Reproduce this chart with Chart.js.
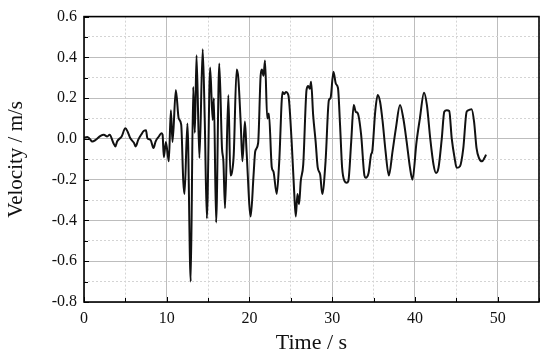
<!DOCTYPE html>
<html>
<head>
<meta charset="utf-8">
<script src="https://cdn.jsdelivr.net/npm/chart.js@4/dist/chart.umd.min.js"></script>
<style>
  html, body { margin: 0; padding: 0; background: #ffffff; }
  #wrap { width: 550px; height: 359px; }
</style>
</head>
<body>
<div id="wrap"><canvas id="c" width="550" height="359"></canvas></div>
<script>
// Time (s)
const times = [
  0.0, 0.4, 0.7, 1.0, 1.4, 2.0, 2.4, 2.8, 3.1, 3.55, 3.8, 4.0, 4.55, 5.0, 5.3, 5.6,
  6.05, 6.25, 6.55, 6.9, 7.25, 7.5, 7.65, 8.05, 8.4, 8.65, 9.05, 9.35, 9.5, 9.65, 9.9,
  10.25, 10.5, 10.7, 11.1, 11.45, 11.75, 12.0, 12.15, 12.5, 12.9, 13.2, 13.4, 13.6, 13.95,
  14.35, 14.6, 14.85, 15.25, 15.55, 15.7, 15.97, 16.35, 16.68, 16.85, 17.05, 17.45, 17.7,
  17.9, 18.1, 18.45, 18.65, 18.95, 19.15, 19.45, 19.65, 20.15, 20.5, 20.7, 21.05, 21.35,
  21.5, 21.7, 21.88, 22.15, 22.35, 22.7, 22.9, 23.3, 23.6, 24.0, 24.2, 24.4, 24.7, 25.1,
  25.4, 25.6, 25.8, 26.0, 26.2, 26.5, 26.9, 27.1, 27.3, 27.45, 27.7, 28.0, 28.25, 28.55,
  28.8, 29.2, 29.6, 29.8, 30.15, 30.45, 30.7, 30.95, 31.2, 31.5, 31.75, 31.95, 32.3, 32.6,
  32.85, 33.1, 33.5, 33.9, 34.05, 34.4, 34.7, 34.85, 35.2, 35.5, 35.8, 36.1, 36.45, 36.85,
  37.3, 37.7, 38.2, 38.6, 39.0, 39.4, 39.7, 40.2, 40.6, 41.1, 41.45, 41.85, 42.25, 42.55,
  42.85, 43.25, 43.55, 43.85, 44.15, 44.45, 44.8, 45.05, 45.45, 45.85, 46.25, 46.5, 46.85,
  47.15, 47.45, 47.75, 48.1, 48.4, 48.6
];
// Velocity (m/s)
const velocity = [
  0.005, 0.01, 0.0, -0.013, -0.005, 0.015, 0.02, 0.012, 0.02, -0.02, -0.037, -0.013, 0.012, 0.052, 0.033, 0.003,
  -0.02, -0.037, -0.005, 0.02, 0.04, 0.042, 0.005, -0.005, -0.045, -0.013, 0.012, 0.028, 0.02, -0.09, -0.015,
  -0.11, 0.14, -0.015, 0.24, 0.10, 0.07, -0.207, -0.27, 0.076, -0.70, 0.255, 0.03, 0.41, -0.094,
  0.44, 0.085, -0.39, 0.35, 0.093, 0.20, -0.41, 0.37, -0.045, -0.11, -0.34, 0.215, -0.18,
  -0.16, -0.077, 0.34, 0.30, 0.07, -0.11, 0.085, -0.06, -0.38, -0.175, -0.06, -0.02, 0.31,
  0.34, 0.31, 0.385, 0.10, 0.125, -0.14, -0.16, -0.27, -0.11, 0.23, 0.22, 0.23, 0.215, -0.013,
  -0.255, -0.38, -0.27, -0.32, -0.207, -0.126, 0.24, 0.26, 0.246, 0.28, 0.117, -0.013, -0.14, -0.175,
  -0.27, -0.11, 0.19, 0.20, 0.33, 0.27, 0.25, 0.07, -0.14, -0.207, -0.215, -0.207, -0.013, 0.166,
  0.133, 0.125, 0.02, -0.18, -0.19, -0.167, -0.077, -0.06, 0.133, 0.215, 0.18, 0.085, -0.06, -0.18,
  -0.06, 0.052, 0.166, 0.10, -0.013, -0.14, -0.2, -0.013, 0.10, 0.227, 0.166, 0.003, -0.126, -0.167,
  -0.142, 0.003, 0.133, 0.141, 0.137, 0.003, -0.094, -0.142, -0.134, -0.045, 0.133, 0.141, 0.146,
  0.085, -0.045, -0.094, -0.11, -0.094, -0.077
];
// Tick labels
const xTickLabels = [0, 10, 20, 30, 40, 50];
const yTickLabels = ['-0.8', '-0.6', '-0.4', '-0.2', '0.0', '0.2', '0.4', '0.6'];

const points = times.map((t, i) => ({ x: t, y: velocity[i] }));

const FONT = "'Liberation Serif', 'Times New Roman', serif";
const isMajorX = v => xTickLabels.some(m => Math.abs(m - v) < 1e-6);
const isMajorY = v => yTickLabels.some(m => Math.abs(parseFloat(m) - v) < 1e-6);

const frameAndTicks = {
  id: 'frameAndTicks',
  afterDraw(chart) {
    const ctx = chart.ctx;
    const a = chart.chartArea;
    const xs = chart.scales.x, ys = chart.scales.y;
    ctx.save();
    ctx.strokeStyle = '#000';
    ctx.lineWidth = 1;
    ctx.beginPath();
    xs.ticks.forEach(t => {
      const px = Math.round(xs.getPixelForValue(t.value)) + 0.5;
      const len = isMajorX(t.value) ? 5 : 4;
      ctx.moveTo(px, a.bottom);
      ctx.lineTo(px, a.bottom - len);
    });
    ys.ticks.forEach(t => {
      const py = Math.round(ys.getPixelForValue(t.value)) + 0.5;
      const len = isMajorY(t.value) ? 5 : 4;
      ctx.moveTo(a.left, py);
      ctx.lineTo(a.left + len, py);
    });
    ctx.stroke();
    ctx.lineWidth = 1.6;
    ctx.strokeRect(a.left, a.top, a.right - a.left, a.bottom - a.top);
    ctx.restore();
  }
};

new Chart(document.getElementById('c'), {
  type: 'line',
  data: {
    datasets: [{
      data: points,
      borderColor: '#111111',
      borderWidth: 2,
      pointRadius: 0,
      cubicInterpolationMode: 'monotone',
      fill: false
    }]
  },
  options: {
    responsive: false,
    animation: false,
    devicePixelRatio: 1,
    layout: { padding: { left: 0, top: 14, right: 11, bottom: 0 } },
    plugins: { legend: { display: false }, tooltip: { enabled: false } },
    scales: {
      x: {
        type: 'linear',
        min: 0, max: 55,
        afterFit: s => { s.height = 57; },
        ticks: {
          stepSize: 5,
          autoSkip: false,
          maxRotation: 0,
          padding: 7,
          color: '#111',
          font: { family: FONT, size: 16 },
          callback: v => isMajorX(v) ? String(v) : ''
        },
        grid: {
          drawTicks: false,
          lineWidth: 1,
          color: c => (c.tick && isMajorX(c.tick.value)) ? '#bdbdbd' : '#d4d4d4'
        },
        border: {
          display: false,
          dash: c => (c.tick && !isMajorX(c.tick.value)) ? [2, 2] : []
        },
        title: {
          display: true,
          text: 'Time / s',
          color: '#111',
          font: { family: FONT, size: 22 },
          padding: { top: 0, bottom: 3 }
        }
      },
      y: {
        type: 'linear',
        min: -0.8, max: 0.6,
        afterFit: s => { s.width = 84; },
        ticks: {
          stepSize: 0.1,
          autoSkip: false,
          padding: 7,
          color: '#111',
          font: { family: FONT, size: 16 },
          callback: v => isMajorY(v) ? (Math.abs(v) < 1e-9 ? '0.0' : v.toFixed(1)) : ''
        },
        grid: {
          drawTicks: false,
          lineWidth: 1,
          color: c => (c.tick && isMajorY(c.tick.value)) ? '#bdbdbd' : '#d4d4d4'
        },
        border: {
          display: false,
          dash: c => (c.tick && !isMajorY(c.tick.value)) ? [2, 2] : []
        },
        title: {
          display: true,
          text: 'Velocity / m/s',
          color: '#111',
          font: { family: FONT, size: 21 },
          padding: { top: 4, bottom: 0 }
        }
      }
    }
  },
  plugins: [frameAndTicks]
});
</script>
</body>
</html>
